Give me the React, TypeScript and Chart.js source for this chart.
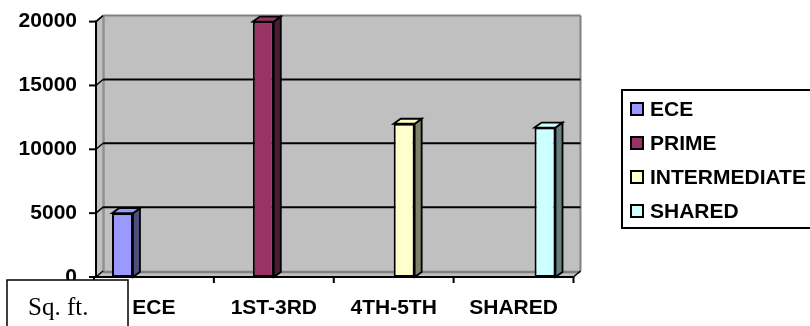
import React, { useEffect, useRef } from "react";
import { Chart, registerables } from "chart.js";

Chart.register(...registerables);

const categories = ["ECE", "1ST-3RD", "4TH-5TH", "SHARED"];
const seriesNames = ["ECE", "PRIME", "INTERMEDIATE", "SHARED"];
const eceValues = [5000, null, null, null];
const primeValues = [null, 20000, null, null];
const intermediateValues = [null, null, 12000, null];
const sharedValues = [null, null, null, 11700];
const frontColors = ["#9999FF", "#993366", "#FFFFCC", "#CCFFFF"];
const sideColors = ["#4D4D80", "#4D1933", "#80806A", "#668080"];
const yMin = 0;
const yMax = 20000;
const yStep = 5000;
const axisNote = "Sq. ft.";

const DX = 7;
const DY = -6;
const BDX = 7;
const BDY = -5;
const FONT = "'Liberation Sans', Arial, sans-serif";
const FSIZE = 21;

function poly(ctx: CanvasRenderingContext2D, pts: number[][], fill?: string, stroke?: string, lw = 1.5) {
  ctx.beginPath();
  ctx.moveTo(pts[0][0], pts[0][1]);
  for (let i = 1; i < pts.length; i++) ctx.lineTo(pts[i][0], pts[i][1]);
  ctx.closePath();
  if (fill) {
    ctx.fillStyle = fill;
    ctx.fill();
  }
  if (stroke) {
    ctx.strokeStyle = stroke;
    ctx.lineWidth = lw;
    ctx.stroke();
  }
}

function line(ctx: CanvasRenderingContext2D, x1: number, y1: number, x2: number, y2: number, color: string, lw: number) {
  ctx.beginPath();
  ctx.moveTo(x1, y1);
  ctx.lineTo(x2, y2);
  ctx.strokeStyle = color;
  ctx.lineWidth = lw;
  ctx.stroke();
}

const walls = {
  id: "walls3d",
  beforeDatasetsDraw(chart: any) {
    const { ctx, chartArea } = chart;
    const { left, right, top, bottom } = chartArea;
    const ys = chart.scales.y;
    const xs = chart.scales.x;
    const ax = left + 2;
    ctx.save();
    ctx.fillStyle = "#C0C0C0";
    ctx.fillRect(ax + DX, top + DY, right - ax, bottom - top);
    poly(ctx, [[ax, top], [ax + DX, top + DY], [ax + DX, bottom + DY], [ax, bottom]], "#C0C0C0");
    poly(ctx, [[ax, bottom], [right, bottom], [right + DX, bottom + DY], [ax + DX, bottom + DY]], "#C0C0C0");
    line(ctx, ax + DX, top + DY, right + DX, top + DY, "#808080", 2);
    line(ctx, right + DX, top + DY, right + DX, bottom + DY, "#808080", 2);
    line(ctx, ax + DX + 0.5, top + DY, ax + DX + 0.5, bottom + DY, "#909090", 2.5);
    line(ctx, ax + DX, bottom + DY + 1, right + DX, bottom + DY + 1, "#808080", 2.5);
    line(ctx, ax, top, ax + DX, top + DY, "#808080", 1.5);
    for (let v = yMin; v <= yMax; v += yStep) {
      const py = ys.getPixelForValue(v);
      if (v > yMin && v < yMax) {
        line(ctx, ax + DX, py + DY, right + DX, py + DY, "#000", 2);
      }
      line(ctx, ax, py, ax + DX, py + DY, "#000", 1.5);
      line(ctx, ax - 7, py, ax, py, "#000", 2);
    }
    line(ctx, ax, top - 1, ax, bottom + 1, "#000", 2);
    line(ctx, ax, bottom, right, bottom, "#000", 2);
    line(ctx, right, bottom, right + DX, bottom + DY, "#000", 1.5);
    const step = xs.getPixelForValue(1) - xs.getPixelForValue(0);
    const start = xs.getPixelForValue(0) - step / 2;
    for (let k = 0; k <= categories.length; k++) {
      const px = start + k * step;
      line(ctx, px, bottom, px, bottom + 6, "#000", 2);
    }
    ctx.restore();
  },
  afterDatasetsDraw(chart: any) {
    const { ctx } = chart;
    ctx.save();
    chart.data.datasets.forEach((ds: any, i: number) => {
      const meta = chart.getDatasetMeta(i);
      meta.data.forEach((bar: any, j: number) => {
        const v = ds.data[j];
        if (v === null || v === undefined) return;
        const { x, y, base, width } = bar.getProps(["x", "y", "base", "width"], true);
        const x1 = x - width / 2;
        const x2 = x + width / 2;
        poly(ctx, [[x2, y], [x2 + BDX, y + BDY], [x2 + BDX, base + BDY], [x2, base]], sideColors[i], "#000", 1.8);
        poly(ctx, [[x1, y], [x1 + BDX, y + BDY], [x2 + BDX, y + BDY], [x2, y]], frontColors[i], "#000", 1.8);
      });
    });
    ctx.restore();
  },
  afterDraw(chart: any) {
    const { ctx } = chart;
    ctx.save();
    const lx = 622;
    const ly = 90;
    ctx.fillStyle = "#fff";
    ctx.fillRect(lx, ly, 200, 138);
    ctx.strokeStyle = "#000";
    ctx.lineWidth = 2;
    ctx.strokeRect(lx, ly, 200, 138);
    ctx.font = `bold ${FSIZE}px ${FONT}`;
    ctx.textBaseline = "middle";
    ctx.textAlign = "left";
    chart.data.datasets.forEach((ds: any, i: number) => {
      const cy = 109 + i * 34;
      ctx.fillStyle = ds.backgroundColor;
      ctx.fillRect(631, cy - 6, 12, 12);
      ctx.strokeStyle = "#000";
      ctx.lineWidth = 2;
      ctx.strokeRect(631, cy - 6, 12, 12);
      ctx.fillStyle = "#000";
      ctx.fillText(ds.label, 650, cy + 1);
    });
    ctx.fillStyle = "#fff";
    ctx.fillRect(7, 280, 121, 60);
    ctx.strokeStyle = "#000";
    ctx.lineWidth = 1.5;
    ctx.strokeRect(7, 280, 121, 60);
    ctx.fillStyle = "#000";
    ctx.font = `25px 'Liberation Serif', 'Times New Roman', serif`;
    ctx.textBaseline = "alphabetic";
    ctx.fillText(axisNote, 28, 315);
    ctx.restore();
  },
};

export default function App() {
  const ref = useRef<HTMLCanvasElement | null>(null);
  useEffect(() => {
    if (!ref.current) return;
    const valueSets = [eceValues, primeValues, intermediateValues, sharedValues];
    const chart = new Chart(ref.current, {
      type: "bar",
      data: {
        labels: categories,
        datasets: seriesNames.map((name, i) => ({
          label: name,
          data: valueSets[i],
          backgroundColor: frontColors[i],
          borderColor: "#000",
          borderWidth: 2,
          borderSkipped: false,
          categoryPercentage: 0.7,
          barPercentage: 1,
        })),
      },
      options: {
        responsive: false,
        animation: false,
        events: [],
        layout: { padding: { left: 0, right: 236.5, top: 20, bottom: 0 } },
        plugins: { legend: { display: false }, tooltip: { enabled: false }, title: { display: false } },
        scales: {
          x: {
            type: "category",
            offset: true,
            grid: { display: false },
            border: { display: false },
            ticks: { color: "#000", font: { family: FONT, size: FSIZE, weight: "bold" }, padding: 11, maxRotation: 0, autoSkip: false },
            afterFit: (s: any) => {
              s.height = 49;
            },
          },
          y: {
            min: yMin,
            max: yMax,
            grid: { display: false },
            border: { display: false },
            ticks: {
              stepSize: yStep,
              color: "#000",
              font: { family: FONT, size: FSIZE, weight: "bold" },
              padding: 9,
              callback: (v: any) => String(v),
            },
            afterFit: (s: any) => {
              s.width = 94;
            },
          },
        },
      },
      plugins: [walls],
    } as any);
    return () => chart.destroy();
  }, []);
  return (
    <div style={{ position: "fixed", left: 0, top: 0, width: 810, height: 326, background: "#fff" }}>
      <canvas ref={ref} width={810} height={326} style={{ display: "block", width: 810, height: 326 }} />
    </div>
  );
}
